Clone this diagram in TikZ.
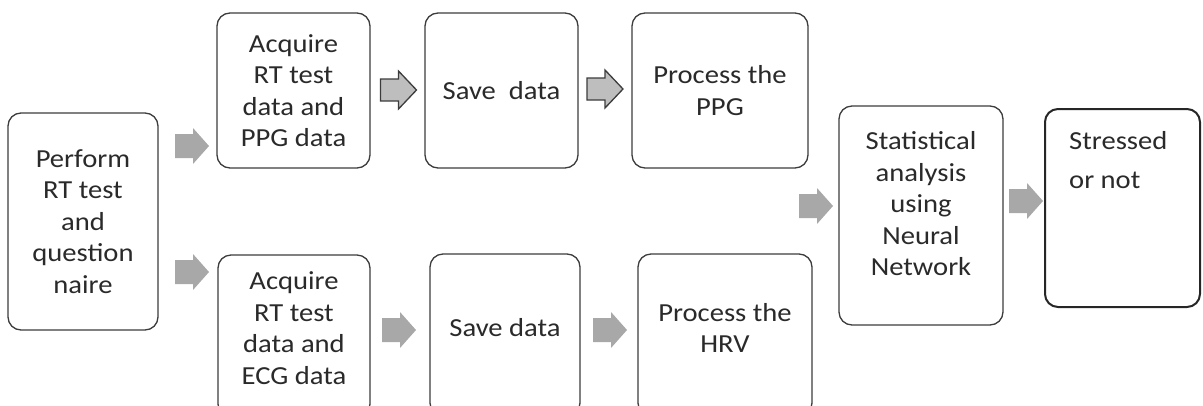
\documentclass[tikz,border=0pt]{standalone}
\usepackage{fontspec}
\setmainfont{Carlito}[FakeStretch=1.1]
\definecolor{txt}{HTML}{2A2A2A}
\definecolor{edge}{HTML}{3C3C3C}
\definecolor{arr}{HTML}{A8A8A8}
\definecolor{oarr}{HTML}{BEBEBE}
\tikzset{
  box/.style={draw=edge, line width=1.3pt, rounded corners=13pt, fill=white,
    inner sep=0pt, text=txt, align=center, font=\fontsize{26}{31.5}\selectfont},
  lbl/.style={text=txt, align=center, inner sep=0pt, font=\fontsize{26}{31.5}\selectfont},
  pics/garrow/.style={code={
    \fill[arr] (-17,-12) -- (1,-12) -- (1,-18) -- (17,0) -- (1,18) -- (1,12) -- (-17,12) -- cycle;
  }},
  pics/oarrow/.style={code={
    \draw[edge, fill=oarr, line width=1.3pt, line join=miter] (-18,-11) -- (0,-11) -- (0,-19) -- (18,0) -- (0,19) -- (0,11) -- (-18,11) -- cycle;
  }}
}
\begin{document}
\begin{tikzpicture}[x=1pt, y=-1pt]
\useasboundingbox (0,0) rectangle (1203,405);
\clip (0,0) rectangle (1203,405);
% boxes
\node[box, minimum width=150pt, minimum height=217pt] (perf) at (83,221.5)
  {Perform\\RT test\\and\\question\\naire};
\node[box, minimum width=153pt, minimum height=155pt] (acq1) at (293.5,90.5)
  {Acquire\\RT test\\data and\\PPG data};
\node[box, minimum width=153pt, minimum height=155pt] (save1) at (501.5,90.5)
  {Save~~data};
\node[box, minimum width=176pt, minimum height=155pt] (proc1) at (720,90.5)
  {Process the\\PPG};
\node[box, minimum width=152pt, minimum height=162pt] (acq2) at (294,336) {};
\node[box, minimum width=150pt, minimum height=162pt] (save2) at (505,335) {};
\node[box, minimum width=174pt, minimum height=162pt] (proc2) at (725,335) {};
\node[box, minimum width=164pt, minimum height=219pt] (stat) at (921,215.5) {};
\node[box, draw=black!85, line width=2pt, minimum width=155pt, minimum height=198pt] (stress) at (1122.5,208) {};
% texts
\node[lbl] (acq2t) at (294,328) {Acquire\\RT test\\data and\\ECG data};
\node[lbl] (save2t) at (505,328) {Save data};
\node[lbl] (proc2t) at (725,328) {Process the\\HRV};
\node[lbl] (statt) at (921,204) {Statistical\\analysis\\using\\Neural\\Network};
\node[lbl, align=left, anchor=north west, font=\fontsize{26}{39}\selectfont] (stresst) at (1069,131) {Stressed\\or not};
% block arrows
\pic at (192,146) {garrow};
\pic at (192,272) {garrow};
\pic at (398.5,90) {oarrow};
\pic at (605,89) {oarrow};
\pic at (399,330) {garrow};
\pic at (610,330) {garrow};
\pic at (816,206) {garrow};
\pic at (1026,201) {garrow};
\end{tikzpicture}
\end{document}
